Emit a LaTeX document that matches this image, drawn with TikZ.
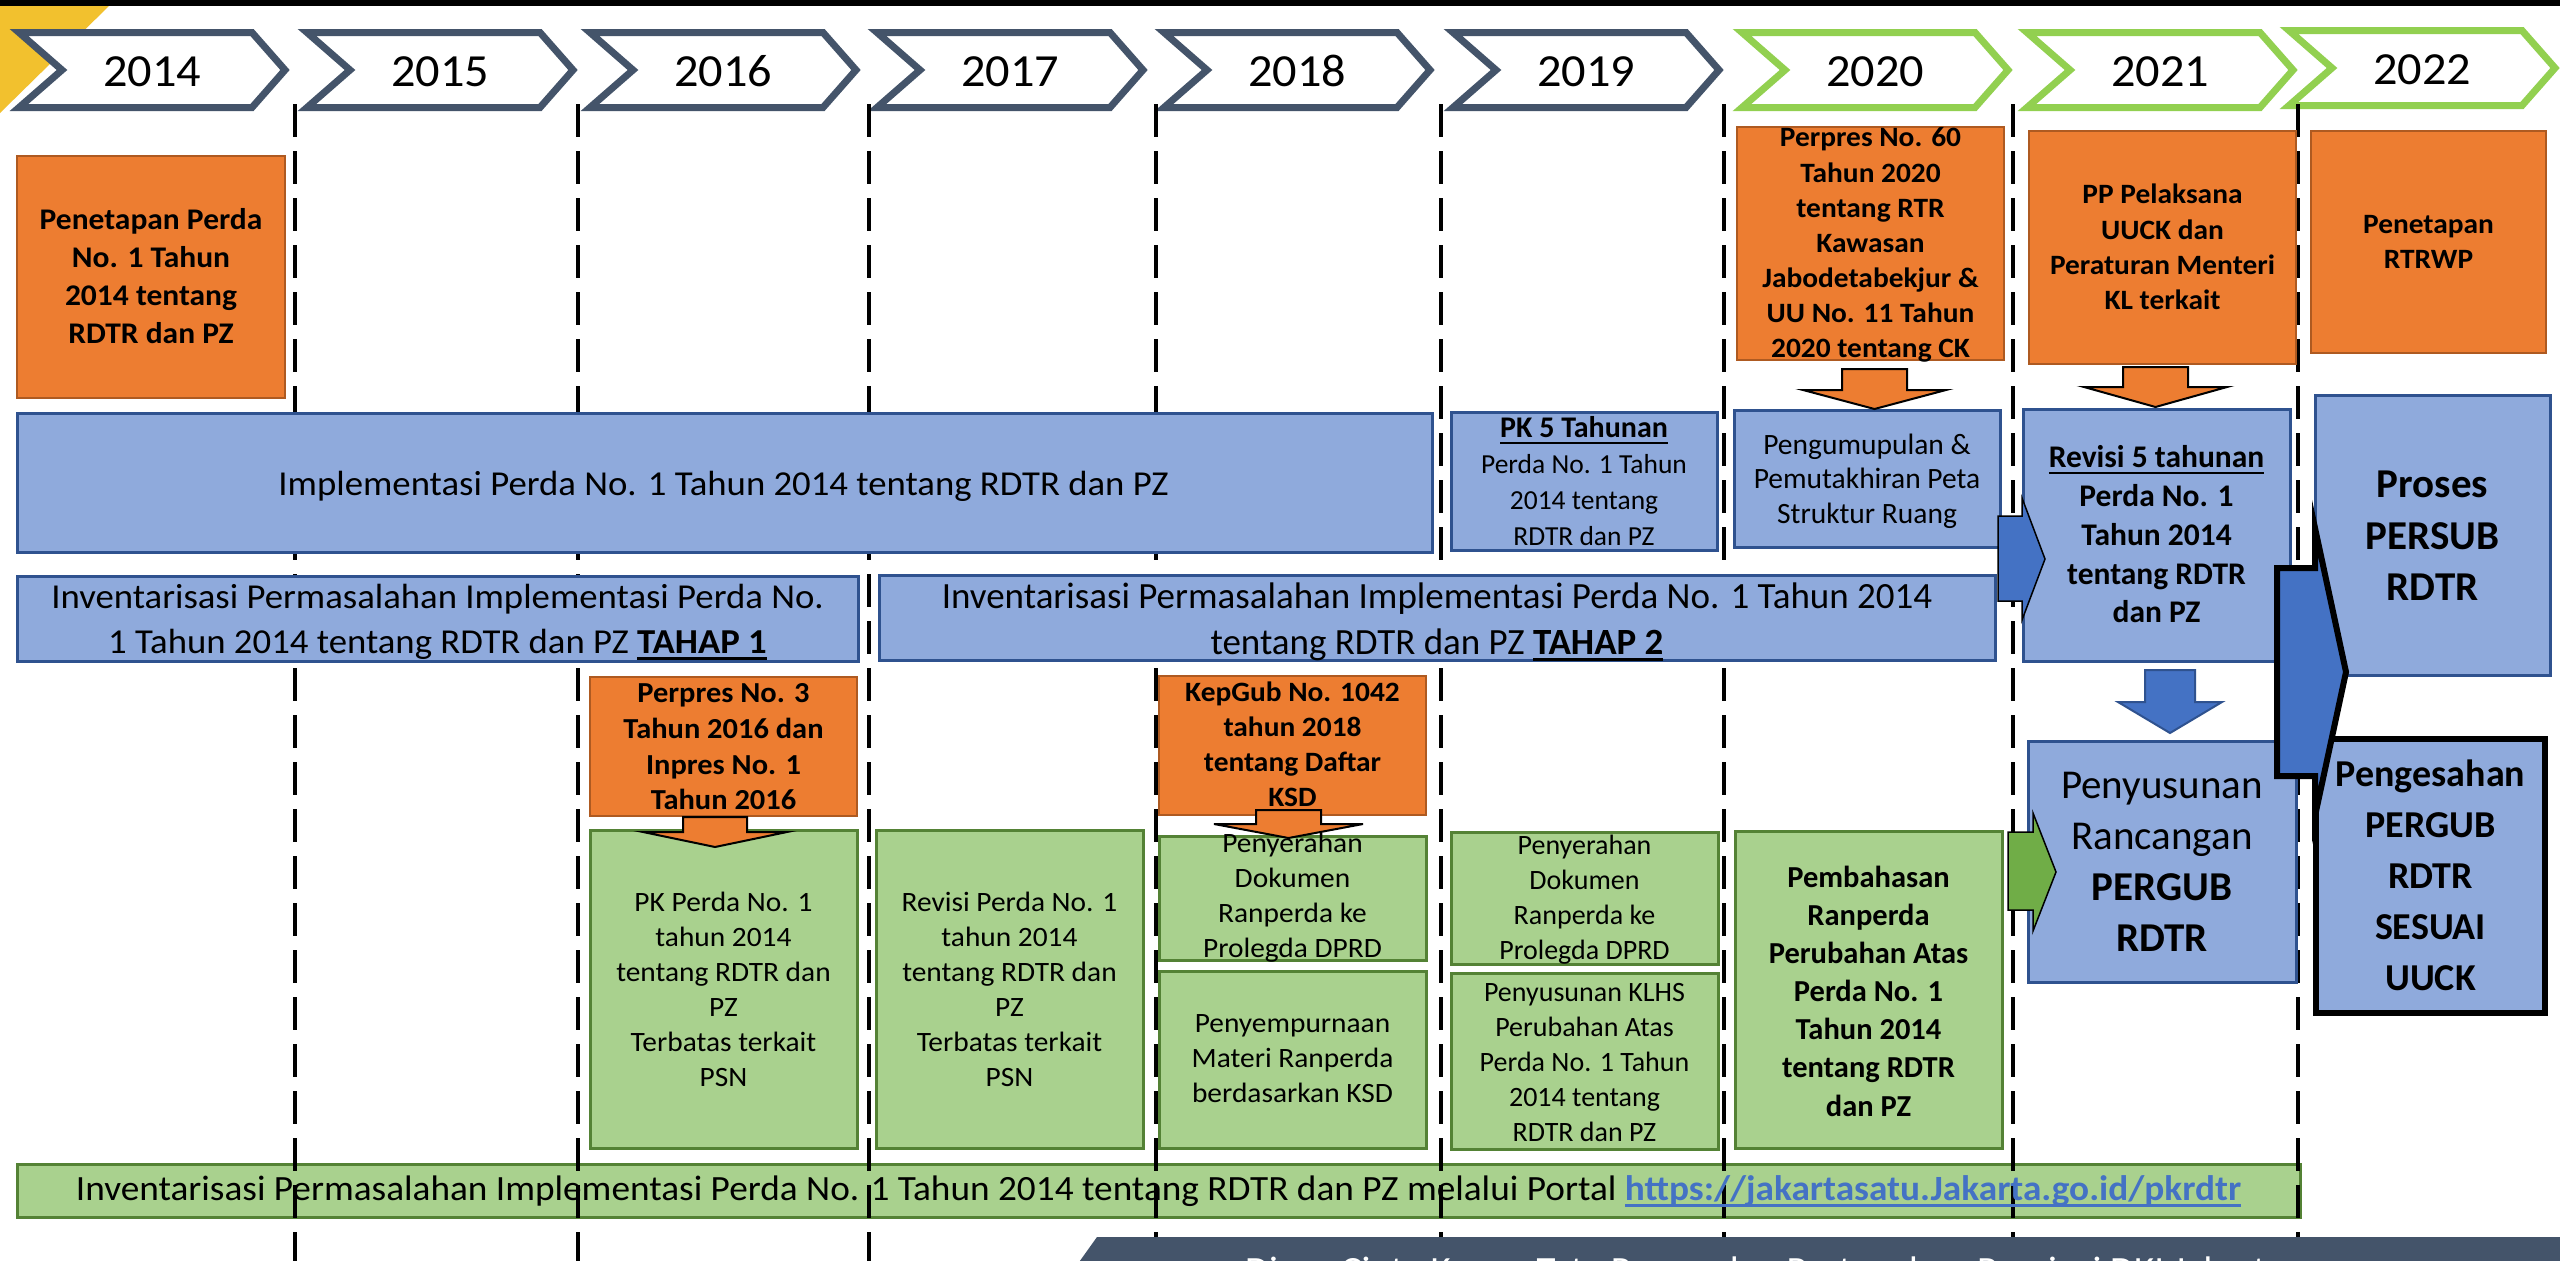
\documentclass[tikz,border=0pt]{standalone}
\usepackage{fontspec}
\setmainfont{Carlito}
\newfontfamily\calfam[FakeStretch=1.05]{Carlito}
\newfontfamily\calplain{Carlito}
\usetikzlibrary{calc}

\definecolor{orfill}{HTML}{ED7D31}
\definecolor{ordraw}{HTML}{AE5A21}
\definecolor{blfill}{HTML}{8FAADC}
\definecolor{bldraw}{HTML}{2F528F}
\definecolor{grfill}{HTML}{A9D18E}
\definecolor{grdraw}{HTML}{548235}
\definecolor{chevdark}{HTML}{44546A}
\definecolor{chevgreen}{HTML}{92D050}
\definecolor{gold}{HTML}{F2C12E}
\definecolor{arblue}{HTML}{4472C4}
\definecolor{argreen}{HTML}{70AD47}
\definecolor{urlblue}{HTML}{4472C4}

% underline with a rule that scales with the font
\newsavebox\ulbox
\newcommand\uline[1]{\sbox\ulbox{#1}\rlap{\rule[-.19em]{\wd\ulbox}{.07em}}\usebox\ulbox}
% struts: top of first line / bottom of last line (keep text blocks centred on cap height)
\newcommand\cT{\rule{0pt}{.9em}}
\newcommand\cB{\rule[-.268em]{0pt}{.268em}}

\tikzset{
  box/.style={rectangle, inner sep=0pt, line width=2.5pt},
  obox/.style={box, fill=orfill, draw=ordraw},
  bbox/.style={box, fill=blfill, draw=bldraw, line width=3pt},
  gbox/.style={box, fill=grfill, draw=grdraw, line width=3pt},
  txt/.style={inner sep=0pt, align=center, text=black},
  cf/.style 2 args={font={\lineskiplimit=-1000pt\calfam\fontsize{#1}{#2}\selectfont}},
  cfb/.style 2 args={font={\lineskiplimit=-1000pt\calfam\fontsize{#1}{#2}\selectfont\bfseries}},
  pf/.style 2 args={font={\lineskiplimit=-1000pt\calplain\fontsize{#1}{#2}\selectfont}},
  pfb/.style 2 args={font={\lineskiplimit=-1000pt\calplain\fontsize{#1}{#2}\selectfont\bfseries}},
  chev/.style={line width=7pt, fill=white, line join=miter},
  gridline/.style={line width=4.5pt, draw=black, dash pattern=on 33pt off 14pt},
  oarrow/.style={fill=orfill, draw=black, line width=2pt, line join=miter},
  barrow/.style={fill=arblue, draw=black, line width=1.5pt, line join=miter},
}

\begin{document}
\lineskiplimit=-1000pt
\begin{tikzpicture}[x=1pt, y=-1pt]
\useasboundingbox (0,0) rectangle (2560,1261);
\fill[white] (0,0) rectangle (2560,1261);

% header bar and corner accent
\fill[black] (0,0) rectangle (2560,6);
\fill[gold] (0,6) -- (109,6) -- (0,113) -- cycle;

% year chevrons
\foreach \yr/\xo/\col/\dy in {2014/10/chevdark/0, 2015/298/chevdark/0, 2016/581/chevdark/0,
    2017/868/chevdark/0, 2018/1155/chevdark/0, 2019/1444/chevdark/0,
    2020/1733/chevgreen/0, 2021/2018/chevgreen/0, 2022/2280/chevgreen/-2} {
  \draw[chev, draw=\col] (\xo+9,32.5+\dy) -- (\xo+242,32.5+\dy) -- (\xo+275,70+\dy)
     -- (\xo+242,107.5+\dy) -- (\xo+9,107.5+\dy) -- (\xo+52,70+\dy) -- cycle;
  \node[txt, cf={46}{50}] (y\yr) at (\xo+142,71.5+\dy) {\cT\yr\cB};
}

% portal bar (under the year grid)
\node[gbox, minimum width=2283pt, minimum height=53pt] (portal) at (1158.5,1190.5) {};

% year grid
\foreach \gx in {295,578,869,1156,1441,1724,2013,2298} {
  \draw[gridline] (\gx,104) -- (\gx,1261);
}

% boxes
\node[obox, minimum width=268pt, minimum height=242pt] (penetapan) at (151,277) {};
\node[bbox, minimum width=1415pt, minimum height=139pt] (impl) at (724.5,482.5) {};
\node[bbox, minimum width=841pt, minimum height=85pt] (tahap1) at (437.5,618.5) {};
\node[bbox, minimum width=1116pt, minimum height=85pt] (tahap2) at (1437,617.5) {};
\node[bbox, minimum width=266pt, minimum height=138pt] (pk5) at (1584,481) {};
\node[bbox, minimum width=266pt, minimum height=137pt] (peta) at (1867,478.5) {};
\node[obox, minimum width=267pt, minimum height=233pt] (perpres60) at (1870.5,243.5) {};
\node[obox, minimum width=267pt, minimum height=233pt] (pp) at (2162.5,247.5) {};
\node[obox, minimum width=235pt, minimum height=222pt] (rtrwp) at (2428.5,242) {};
\node[bbox, minimum width=267pt, minimum height=252pt] (revisi) at (2156.5,535) {};
\node[bbox, minimum width=235pt, minimum height=280pt] (persub) at (2432.5,535) {};
\node[bbox, minimum width=268pt, minimum height=241pt] (rancangan) at (2162,861.5) {};
\node[bbox, draw=black, line width=6pt, minimum width=229pt, minimum height=274pt] (pengesahan) at (2430.5,876) {};
\node[obox, minimum width=267pt, minimum height=139pt] (perpres3) at (723.5,746.5) {};
\node[gbox, minimum width=267pt, minimum height=318pt] (pk16) at (723.5,989) {};
\node[gbox, minimum width=267pt, minimum height=318pt] (rev17) at (1009.5,989) {};
\node[obox, minimum width=267pt, minimum height=139pt] (kepgub) at (1292.5,745.5) {};
\node[gbox, minimum width=267pt, minimum height=124pt] (serah18) at (1292.5,898) {};
\node[gbox, minimum width=267pt, minimum height=177pt] (sempurna) at (1292.5,1059.5) {};
\node[gbox, minimum width=267pt, minimum height=132pt] (serah19) at (1584.5,898) {};
\node[gbox, minimum width=267pt, minimum height=176pt] (klhs) at (1584.5,1061.5) {};
\node[gbox, minimum width=267pt, minimum height=317pt] (bahas) at (1868.5,989.5) {};

% block arrows
\draw[oarrow] (683,817) -- (747,817) -- (747,832) -- (787,832) -- (715,847) -- (643,832) -- (683,832) -- cycle;
\draw[oarrow] (1256,810) -- (1321,810) -- (1321,824) -- (1363,824) -- (1288.5,838) -- (1214,824) -- (1256,824) -- cycle;
\draw[oarrow] (1842,369) -- (1907,369) -- (1907,390) -- (1946,390) -- (1874.5,409) -- (1803,390) -- (1842,390) -- cycle;
\draw[oarrow] (2123,367) -- (2188,367) -- (2188,387) -- (2227,387) -- (2155.5,407) -- (2084,387) -- (2123,387) -- cycle;
\draw[barrow] (1998,516) -- (2022,516) -- (2022,498) -- (2045,559) -- (2022,620) -- (2022,601) -- (1998,601) -- cycle;
\draw[fill=arblue, draw=bldraw, line width=2pt] (2145,670) -- (2195,670) -- (2195,702) -- (2222,702) -- (2170,733) -- (2118,702) -- (2145,702) -- cycle;
\draw[fill=argreen, draw=black, line width=1.5pt] (2008,832) -- (2033,832) -- (2033,813) -- (2056,872) -- (2033,931) -- (2033,910) -- (2008,910) -- cycle;
\draw[fill=arblue, draw=black, line width=6pt, line join=miter] (2277,568) -- (2315,568) -- (2315,528) -- (2346,672) -- (2315,816) -- (2315,776) -- (2277,776) -- cycle;

% texts
\node[txt, cfb={30}{38}] (tPenetapan) at (151,277.5) {\cT Penetapan Perda\\No. 1 Tahun\\2014 tentang\\RDTR dan PZ\cB};
\node[txt, cf={35}{45}] (tImpl) at (723.5,484) {\cT Implementasi Perda No. 1 Tahun 2014 tentang RDTR dan PZ\cB};
\node[txt, cf={35}{45}] (tTahap1) at (437.5,619.5) {\cT Inventarisasi Permasalahan Implementasi Perda No.\\1 Tahun 2014 tentang RDTR dan PZ \textbf{\uline{TAHAP 1}}\cB};
\node[txt, pf={37}{46}] (tTahap2) at (1437,619.3) {\cT Inventarisasi Permasalahan Implementasi Perda No. 1 Tahun 2014\\tentang RDTR dan PZ \textbf{\uline{TAHAP 2}}\cB};
\node[txt, pf={27.5}{35.7}] (tPk5) at (1584,482.8) {\cT{\fontsize{30}{35.7}\selectfont\bfseries\uline{PK 5 Tahunan}}\\Perda No. 1 Tahun\\2014 tentang\\RDTR dan PZ\cB};
\node[txt, pf={29.5}{34.5}] (tPeta) at (1867,479.2) {\cT Pengumupulan \&\\Pemutakhiran Peta\\Struktur Ruang\cB};
\node[txt, cfb={28}{35.17}] (tPerpres60) at (1870.5,243.6) {\cT Perpres No. 60\\Tahun 2020\\tentang RTR\\Kawasan\\Jabodetabekjur \&\\UU No. 11 Tahun\\2020 tentang CK\cB};
\node[txt, cfb={28}{35.3}] (tPp) at (2162.5,248) {\cT PP Pelaksana\\UUCK dan\\Peraturan Menteri\\KL terkait\cB};
\node[txt, cfb={28}{35}] (tRtrwp) at (2428.5,241.7) {\cT Penetapan\\RTRWP\cB};
\node[txt, pfb={31.5}{38.75}] (tRevisi) at (2156.5,535.5) {\cT\uline{Revisi 5 tahunan}\\Perda No. 1\\Tahun 2014\\tentang RDTR\\dan PZ\cB};
\node[txt, pfb={41}{51.5}] (tPersub) at (2432.5,536.5) {\cT Proses\\PERSUB\\RDTR\cB};
\node[txt, pf={41}{51}] (tRancangan) at (2162,862.5) {\cT Penyusunan\\Rancangan\\\textbf{PERGUB}\\\textbf{RDTR}\cB};
\node[txt, pfb={38}{51}] (tPengesahan) at (2430.5,876) {\cT Pengesahan\\PERGUB\\RDTR\\SESUAI\\UUCK\cB};
\node[txt, cfb={29}{35.7}] (tPerpres3) at (723.5,747) {\cT Perpres No. 3\\Tahun 2016 dan\\Inpres No. 1\\Tahun 2016\cB};
\node[txt, cf={28}{35}] (tPk16) at (723.5,990.6) {\cT PK Perda No. 1\\tahun 2014\\tentang RDTR dan\\PZ\\Terbatas terkait\\PSN\cB};
\node[txt, cf={28}{35}] (tRev17) at (1009.5,990.6) {\cT Revisi Perda No. 1\\tahun 2014\\tentang RDTR dan\\PZ\\Terbatas terkait\\PSN\cB};
\node[txt, cfb={28}{35}] (tKepgub) at (1292.5,745.6) {\cT KepGub No. 1042\\tahun 2018\\tentang Daftar\\KSD\cB};
\node[txt, cf={28}{35}] (tSerah18) at (1292.5,896.6) {\cT Penyerahan\\Dokumen\\Ranperda ke\\Prolegda DPRD\cB};
\node[txt, cf={28}{35}] (tSempurna) at (1292.5,1059) {\cT Penyempurnaan\\Materi Ranperda\\berdasarkan KSD\cB};
\node[txt, pf={28}{35}] (tSerah19) at (1584.5,898.6) {\cT Penyerahan\\Dokumen\\Ranperda ke\\Prolegda DPRD\cB};
\node[txt, pf={28}{35}] (tKlhs) at (1584.5,1063) {\cT Penyusunan KLHS\\Perubahan Atas\\Perda No. 1 Tahun\\2014 tentang\\RDTR dan PZ\cB};
\node[txt, pfb={30.5}{38.17}] (tBahas) at (1868.5,991.9) {\cT Pembahasan\\Ranperda\\Perubahan Atas\\Perda No. 1\\Tahun 2014\\tentang RDTR\\dan PZ\cB};
\node[txt, cf={35.5}{45}] (tPortal) at (1158.5,1188.8) {\cT Inventarisasi Permasalahan Implementasi Perda No. 1 Tahun 2014 tentang RDTR dan PZ melalui Portal \textcolor{urlblue}{\textbf{\uline{https://jakartasatu.Jakarta.go.id/pkrdtr}}}\cB};

% footer banner
\fill[chevdark] (1097,1237) -- (2570,1237) -- (2570,1300) -- (1052,1300) -- cycle;
\node[anchor=base west, inner sep=0pt, text=white, font={\calfam\fontsize{37}{44}\selectfont}] (footer) at (1245,1282) {Dinas Cipta Karya, Tata Ruang dan Pertanahan Provinsi DKI Jakarta};
\end{tikzpicture}
\end{document}
